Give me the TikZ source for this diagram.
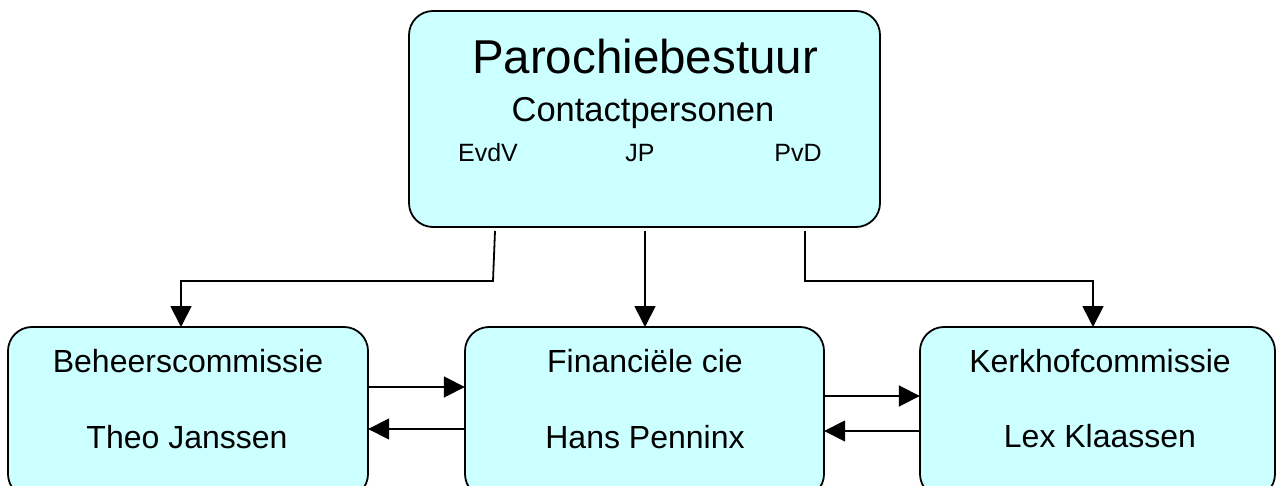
\documentclass[tikz,border=0pt]{standalone}
\usepackage{fontspec}
\setmainfont{Liberation Sans}
\usetikzlibrary{arrows.meta,calc}
\definecolor{boxfill}{HTML}{CCFFFF}
\begin{document}
\begin{tikzpicture}[x=1pt,y=-1pt,
  box/.style={draw=black,line width=1.8pt,fill=boxfill,rounded corners=24pt},
  conn/.style={draw=black,line width=1.8pt},
  arr/.style={conn,-{Triangle[length=21pt,width=21pt]}},
  lbl/.style={anchor=base,inner sep=0pt},
  big/.style={font=\fontsize{47.5}{56}\selectfont},
  mid/.style={font=\fontsize{34.5}{40}\selectfont},
  small/.style={font=\fontsize{25}{30}\selectfont},
  sub/.style={font=\fontsize{32}{38}\selectfont}]
\useasboundingbox (0,0) rectangle (1276,486);
% boxes
\path[box] (409,11) rectangle (880,227);
\node[inner sep=0pt,minimum width=471pt,minimum height=216pt] (top) at (644.5,119) {};
\path[box] (8,327) rectangle (368,498);
\node[inner sep=0pt,minimum width=360pt,minimum height=171pt] (lb) at (188,412.5) {};
\path[box] (465,327) rectangle (824,498);
\node[inner sep=0pt,minimum width=359pt,minimum height=171pt] (mb) at (644.5,412.5) {};
\path[box] (920,327) rectangle (1275,498);
\node[inner sep=0pt,minimum width=355pt,minimum height=171pt] (rb) at (1097.5,412.5) {};
% texts
\node[lbl,big] (t1) at (645,73.3) {Parochiebestuur};
\node[lbl,mid] (t2) at (643,122) {Contactpersonen};
\node[lbl,small] (t3) at (488,161.7) {EvdV};
\node[lbl,small] (t4) at (640,161.7) {JP};
\node[lbl,small] (t5) at (798,161.7) {PvD};
\node[lbl,sub] (l1) at (188,372) {Beheerscommissie};
\node[lbl,sub] (l2) at (187,448) {Theo Janssen};
\node[lbl,sub] (m1) at (645,372.5) {Financiële cie};
\node[lbl,sub] (m2) at (645,448) {Hans Penninx};
\node[lbl,sub] (r1) at (1100,372.5) {Kerkhofcommissie};
\node[lbl,sub] (r2) at (1100,447) {Lex Klaassen};
% connector coordinates
\coordinate (sL) at (495,231);
\coordinate (kL) at (493,281);
\coordinate (eL) at (181,327);
\coordinate (sM) at (645,231);
\coordinate (eM) at (645,327);
\coordinate (sR) at (805,231);
\coordinate (eR) at (1093,327);
\coordinate (yA) at (0,387);
\coordinate (yB) at (0,429);
\coordinate (yC) at (0,396);
\coordinate (yD) at (0,431);
% connectors
\draw[arr] (sL) -- (kL) -| (eL);
\draw[arr] (sM) -- (eM);
\draw[arr] (sR) |- (eR |- kL) -- (eR);
\draw[arr] (lb.east |- yA) -- (mb.west |- yA);
\draw[arr] (mb.west |- yB) -- (lb.east |- yB);
\draw[arr] (mb.east |- yC) -- (rb.west |- yC);
\draw[arr] (rb.west |- yD) -- (mb.east |- yD);
\end{tikzpicture}
\end{document}
